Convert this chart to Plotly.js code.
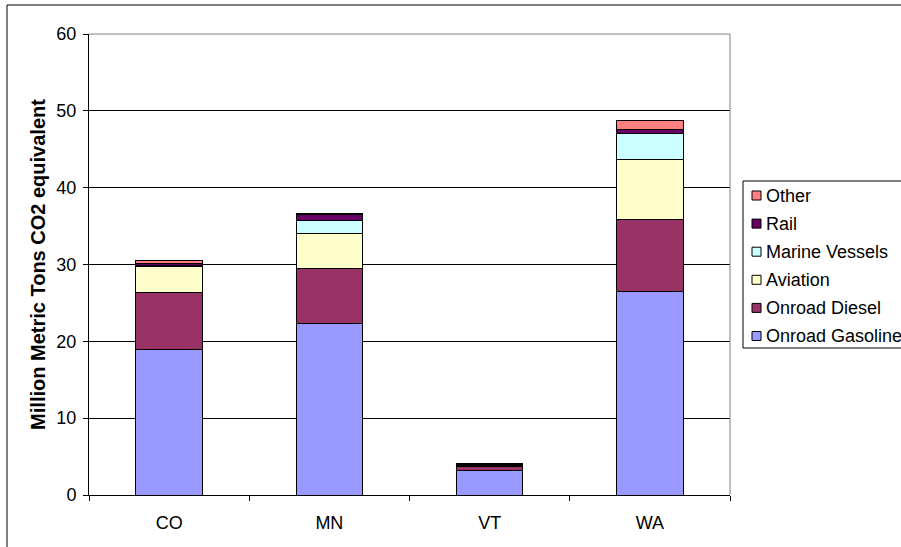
<!DOCTYPE html>
<html>
<head>
<meta charset="utf-8">
<script src="https://cdn.plot.ly/plotly-3.0.1.min.js"></script>
<style>html,body{margin:0;padding:0;background:#fff;}#chart{width:901px;height:547px;}</style>
</head>
<body>
<div id="chart"></div>
<script>
var states = ["CO", "MN", "VT", "WA"];
var onroadGasoline = [19.0, 22.3, 3.2, 26.5];
var onroadDiesel = [7.3, 7.2, 0.5, 9.3];
var aviation = [3.5, 4.5, 0.15, 7.9];
var marineVessels = [0.05, 1.7, 0.0, 3.4];
var rail = [0.3, 0.8, 0.15, 0.5];
var other = [0.35, 0.1, 0.05, 1.2];

var seriesNames = ["Onroad Gasoline", "Onroad Diesel", "Aviation", "Marine Vessels", "Rail", "Other"];
var seriesValues = [onroadGasoline, onroadDiesel, aviation, marineVessels, rail, other];
var seriesColors = ["#9999FF", "#993366", "#FFFFCC", "#CCFFFF", "#660066", "#FF8080"];

var traces = seriesNames.map(function (n, i) {
  return {
    type: "bar",
    name: n,
    x: states,
    y: seriesValues[i],
    showlegend: false,
    marker: { color: seriesColors[i], line: { color: "#000000", width: 1 } },
    hoverinfo: "x+y+name"
  };
});

// plot area in pixels: x 89..730, y 34..495
function px(X) { return (X - 89) / 641; }
function py(Y) { return (495 - Y) / 461; }

var shapes = [
  { type: "line", xref: "paper", yref: "paper", x0: 0, x1: 1, y0: 1, y1: 1, line: { color: "#808080", width: 1 } },
  { type: "line", xref: "paper", yref: "paper", x0: 1, x1: 1, y0: 0, y1: 1, line: { color: "#808080", width: 1 } },
  { type: "rect", xref: "paper", yref: "paper", x0: px(7), x1: px(1000), y0: py(600), y1: py(5), line: { color: "#000000", width: 1 }, fillcolor: "rgba(0,0,0,0)", layer: "below" },
  // legend box
  { type: "rect", xref: "paper", yref: "paper", x0: px(743), x1: px(1000), y0: py(348), y1: py(181), line: { color: "#000000", width: 1 }, fillcolor: "#ffffff" }
];
var annotations = [];

// legend entries, top = last series
for (var k = 0; k < seriesNames.length; k++) {
  var i = seriesNames.length - 1 - k;
  var cy = 195.5 + k * 28.1;
  shapes.push({
    type: "rect", xref: "paper", yref: "paper",
    x0: px(752), x1: px(761), y0: py(cy + 4.5), y1: py(cy - 4.5),
    line: { color: "#000000", width: 1 }, fillcolor: seriesColors[i]
  });
  annotations.push({
    xref: "paper", yref: "paper", x: px(764), y: py(cy),
    xanchor: "left", yanchor: "middle", showarrow: false,
    text: seriesNames[i],
    font: { family: "Liberation Sans, Arial, sans-serif", size: 18, color: "#000000" }
  });
}

var layout = {
  width: 901,
  height: 547,
  paper_bgcolor: "#ffffff",
  plot_bgcolor: "#ffffff",
  barmode: "stack",
  bargap: 0.584,
  font: { family: "Liberation Sans, Arial, sans-serif", size: 18, color: "#000000" },
  margin: { l: 89, r: 171, t: 34, b: 52, autoexpand: false },
  showlegend: false,
  xaxis: {
    type: "category",
    showline: true,
    linecolor: "#000000",
    linewidth: 1,
    ticks: "outside",
    tickson: "boundaries",
    ticklen: 5,
    tickcolor: "#000000",
    showgrid: false,
    zeroline: false,
    ticklabelstandoff: 11,
    tickfont: { size: 18 }
  },
  yaxis: {
    range: [0, 60],
    dtick: 10,
    showline: true,
    linecolor: "#000000",
    linewidth: 1,
    ticks: "outside",
    ticklen: 5,
    tickcolor: "#000000",
    showgrid: true,
    gridcolor: "#000000",
    gridwidth: 1,
    zeroline: false,
    ticklabelstandoff: 3,
    tickfont: { size: 18 },
    title: {
      text: "<b>Million Metric Tons CO2 equivalent</b>",
      font: { size: 20 },
      standoff: 5
    }
  },
  shapes: shapes,
  annotations: annotations
};

Plotly.newPlot("chart", traces, layout, { displayModeBar: false, staticPlot: true });
</script>
</body>
</html>
